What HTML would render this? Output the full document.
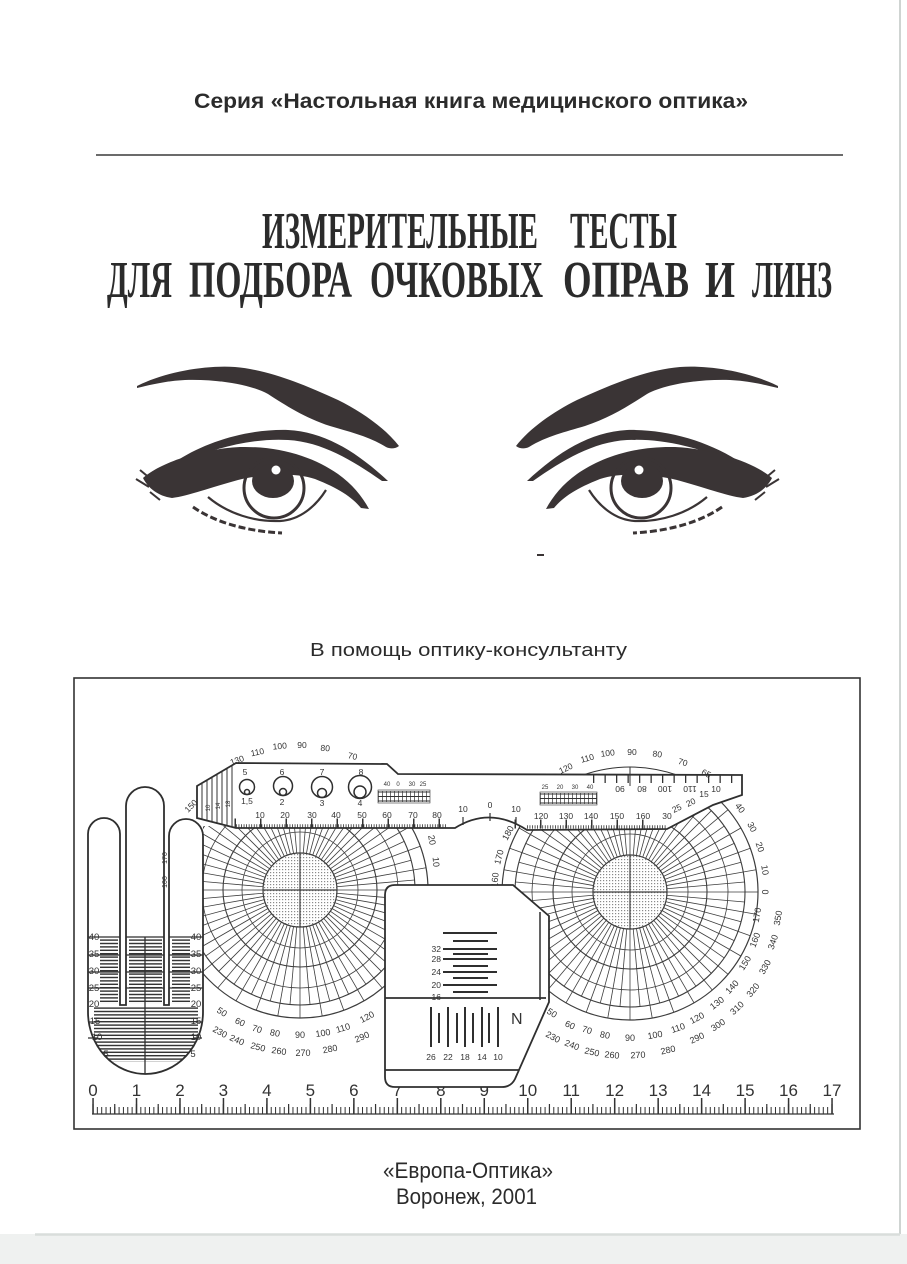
<!DOCTYPE html>
<html><head><meta charset="utf-8">
<style>
html,body{margin:0;padding:0;background:#fff;}
svg{display:block;}
</style></head>
<body>
<svg width="907" height="1264" viewBox="0 0 907 1264" xmlns="http://www.w3.org/2000/svg">
<defs>
  <pattern id="hatch" width="6" height="3.4" patternUnits="userSpaceOnUse"><line x1="0" y1="1.7" x2="6" y2="1.7" stroke="#2e2e2e" stroke-width="1.4"/></pattern>
  <pattern id="dots" width="3" height="3" patternUnits="userSpaceOnUse"><rect x="0" y="0" width="1.2" height="1.2" fill="#8a8a8a"/></pattern>
  <line id="rl" x1="37" y1="0" x2="115" y2="0"/>
  <g id="rq">
    <use href="#rl"/><use href="#rl" transform="rotate(5)"/><use href="#rl" transform="rotate(10)"/><use href="#rl" transform="rotate(15)"/>
    <use href="#rl" transform="rotate(20)"/><use href="#rl" transform="rotate(25)"/><use href="#rl" transform="rotate(30)"/><use href="#rl" transform="rotate(35)"/>
    <use href="#rl" transform="rotate(40)"/><use href="#rl" transform="rotate(45)"/><use href="#rl" transform="rotate(50)"/><use href="#rl" transform="rotate(55)"/>
    <use href="#rl" transform="rotate(60)"/><use href="#rl" transform="rotate(65)"/><use href="#rl" transform="rotate(70)"/><use href="#rl" transform="rotate(75)"/>
    <use href="#rl" transform="rotate(80)"/><use href="#rl" transform="rotate(85)"/>
  </g>
  <g id="ra"><use href="#rq"/><use href="#rq" transform="rotate(90)"/><use href="#rq" transform="rotate(180)"/><use href="#rq" transform="rotate(270)"/></g>
  <line id="ro" x1="115" y1="0" x2="128" y2="0"/>
  <g id="oq">
    <use href="#ro"/><use href="#ro" transform="rotate(10)"/><use href="#ro" transform="rotate(20)"/><use href="#ro" transform="rotate(30)"/>
    <use href="#ro" transform="rotate(40)"/><use href="#ro" transform="rotate(50)"/><use href="#ro" transform="rotate(60)"/><use href="#ro" transform="rotate(70)"/>
    <use href="#ro" transform="rotate(80)"/>
  </g>
  <g id="oa"><use href="#oq"/><use href="#oq" transform="rotate(90)"/><use href="#oq" transform="rotate(180)"/><use href="#oq" transform="rotate(270)"/></g>
  <g id="prot" fill="none" stroke="#3d3d3d" stroke-width="0.8">
    <circle r="37" fill="url(#dots)" stroke-width="1.2"/>
    <circle r="58"/><circle r="77" stroke-width="1.1"/><circle r="98"/><circle r="115" stroke-width="1.1"/><circle r="128" stroke-width="1.2"/>
    <use href="#ra"/><use href="#oa"/>
    <path d="M-37,0H37M0,-37V37" stroke-width="1.2"/>
  </g>
  <clipPath id="cpL"><path d="M203,826 L470,826 L470,1130 L203,1130 Z"/></clipPath>
  <clipPath id="cpR"><path d="M470,826 L667,826 L742,793 L800,793 L800,1130 L470,1130 Z"/></clipPath>
  <clipPath id="cpT"><polygon points="197,786 236,763 236,828 197,818"/></clipPath>
  <clipPath id="cpH"><path d="M88,1012 L88,834 A16,16 0 0 1 120,834 L120,1005 L126,1005 L126,806 A19,19 0 0 1 164,806 L164,1005 L169,1005 L169,836 A17,17 0 0 1 203,836 L203,1012 A57.5,62 0 0 1 88,1012 Z"/></clipPath>

  <g id="eye">
    <path fill="#3a3435" d="M137,386 C165,372 205,365 235,367 C270,370 305,385 338,400 C362,412 385,428 399,446 C395,449 390,449 386,447 C368,436 350,432 330,426 C305,418 285,405 268,394 C250,384 215,379 185,380 C165,381 150,385 137,388 Z"/>
    <path fill="#3a3435" d="M178,460 C210,440 250,429 288,430 C325,432 357,452 388,481 L382,481 C352,460 322,442 288,440 C255,438 215,447 182,463 Z"/>
    <path fill="#3a3435" d="M143,478 C160,463 200,449 240,447 C282,446 315,458 338,474 C352,484 362,496 369,509 L361,508 C352,497 338,488 315,479 C292,472 262,474 238,480 C212,487 188,496 172,498 C158,496 148,488 143,478 Z"/>
    <circle cx="274" cy="488" r="30" fill="none" stroke="#3a3435" stroke-width="3"/>
    <ellipse cx="273" cy="481" rx="21" ry="17" fill="#3a3435"/>
    <circle cx="276" cy="470" r="4.5" fill="#fff"/>
    <path d="M208,497 C228,514 255,522 280,521 C300,520 316,506 326,490" fill="none" stroke="#3a3435" stroke-width="2.2"/>
    <path d="M193,507 C213,521 243,531 282,533" fill="none" stroke="#3a3435" stroke-width="3" stroke-dasharray="7 3"/>
    <path d="M140,470 L152,480 M136,479 L149,487 M150,492 L160,500" fill="none" stroke="#3a3435" stroke-width="2"/>
  </g>
</defs>

<rect width="907" height="1264" fill="#fff"/>

<!-- scan edges -->
<line x1="900" y1="0" x2="900" y2="1236" stroke="#cfd4d2" stroke-width="2"/>
<rect x="0" y="1234" width="907" height="30" fill="#eff1f0"/>
<line x1="35" y1="1234.5" x2="900" y2="1234.5" stroke="#d9dddb" stroke-width="2.5"/>

<!-- header -->
<text x="194" y="108" font-family="Liberation Sans, sans-serif" font-weight="bold" font-size="21" fill="#2b2b2b" textLength="554" lengthAdjust="spacingAndGlyphs">Серия «Настольная книга медицинского оптика»</text>
<line x1="96" y1="155" x2="843" y2="155" stroke="#3a3a3a" stroke-width="1.5"/>
<g font-family="Liberation Serif, serif" font-weight="bold" font-size="52" fill="#2b2b2b">
  <text x="262" y="248" textLength="276" lengthAdjust="spacingAndGlyphs">ИЗМЕРИТЕЛЬНЫЕ</text>
  <text x="570" y="248" textLength="107" lengthAdjust="spacingAndGlyphs">ТЕСТЫ</text>
  <text x="107" y="297" textLength="65" lengthAdjust="spacingAndGlyphs">ДЛЯ</text>
  <text x="189" y="297" textLength="163" lengthAdjust="spacingAndGlyphs">ПОДБОРА</text>
  <text x="370" y="297" textLength="173" lengthAdjust="spacingAndGlyphs">ОЧКОВЫХ</text>
  <text x="563" y="297" textLength="126" lengthAdjust="spacingAndGlyphs">ОПРАВ</text>
  <text x="705" y="297" textLength="30" lengthAdjust="spacingAndGlyphs">И</text>
  <text x="752" y="297" textLength="80" lengthAdjust="spacingAndGlyphs">ЛИНЗ</text>
</g>

<!-- eyes -->
<use href="#eye"/>
<use href="#eye" transform="translate(915,0) scale(-1,1)"/>
<rect x="537" y="554" width="7" height="2" fill="#3a3435"/>

<text x="310" y="656" font-family="Liberation Sans, sans-serif" font-size="18" fill="#2b2b2b" textLength="317" lengthAdjust="spacingAndGlyphs">В помощь оптику-консультанту</text>

<!-- frame -->
<rect x="74" y="678" width="786" height="451" fill="none" stroke="#333" stroke-width="1.6"/>

<!-- protractors -->
<g clip-path="url(#cpL)"><use href="#prot" transform="translate(300,890)"/></g>
<g clip-path="url(#cpR)"><use href="#prot" transform="translate(630,892)"/></g>

<!-- protractor labels -->
<g font-family="Liberation Sans, sans-serif" font-size="9" fill="#333" text-anchor="middle">
  <text transform="translate(222,1012) rotate(33)" dy="3">50</text>
  <text transform="translate(240,1022) rotate(24)" dy="3">60</text>
  <text transform="translate(257,1029) rotate(17)" dy="3">70</text>
  <text transform="translate(275,1033) rotate(10)" dy="3">80</text>
  <text transform="translate(300,1035)" dy="3">90</text>
  <text transform="translate(323,1033) rotate(-9)" dy="3">100</text>
  <text transform="translate(343,1028) rotate(-17)" dy="3">110</text>
  <text transform="translate(367,1017) rotate(-28)" dy="3">120</text>
  <text transform="translate(220,1032) rotate(29)" dy="3">230</text>
  <text transform="translate(237,1040) rotate(23)" dy="3">240</text>
  <text transform="translate(258,1047) rotate(15)" dy="3">250</text>
  <text transform="translate(279,1051) rotate(8)" dy="3">260</text>
  <text transform="translate(303,1053)" dy="3">270</text>
  <text transform="translate(330,1049) rotate(-11)" dy="3">280</text>
  <text transform="translate(362,1037) rotate(-23)" dy="3">290</text>
  <text transform="translate(432,840) rotate(80)" dy="3">20</text>
  <text transform="translate(436,862) rotate(85)" dy="3">10</text>

  <text transform="translate(552,1013) rotate(33)" dy="3">50</text>
  <text transform="translate(570,1025) rotate(24)" dy="3">60</text>
  <text transform="translate(587,1030) rotate(17)" dy="3">70</text>
  <text transform="translate(605,1035) rotate(10)" dy="3">80</text>
  <text transform="translate(630,1038)" dy="3">90</text>
  <text transform="translate(655,1035) rotate(-10)" dy="3">100</text>
  <text transform="translate(678,1028) rotate(-19)" dy="3">110</text>
  <text transform="translate(697,1018) rotate(-28)" dy="3">120</text>
  <text transform="translate(717,1003) rotate(-38)" dy="3">130</text>
  <text transform="translate(732,987) rotate(-47)" dy="3">140</text>
  <text transform="translate(745,963) rotate(-58)" dy="3">150</text>
  <text transform="translate(755,940) rotate(-69)" dy="3">160</text>
  <text transform="translate(757,915) rotate(-80)" dy="3">170</text>
  <text transform="translate(765,892) rotate(90)" dy="3">0</text>
  <text transform="translate(765,870) rotate(81)" dy="3">10</text>
  <text transform="translate(760,847) rotate(71)" dy="3">20</text>
  <text transform="translate(752,827) rotate(62)" dy="3">30</text>
  <text transform="translate(740,808) rotate(53)" dy="3">40</text>
  <text transform="translate(553,1037) rotate(28)" dy="3">230</text>
  <text transform="translate(572,1045) rotate(21)" dy="3">240</text>
  <text transform="translate(592,1052) rotate(13)" dy="3">250</text>
  <text transform="translate(612,1055) rotate(6)" dy="3">260</text>
  <text transform="translate(638,1055) rotate(-3)" dy="3">270</text>
  <text transform="translate(668,1050) rotate(-13)" dy="3">280</text>
  <text transform="translate(697,1038) rotate(-25)" dy="3">290</text>
  <text transform="translate(718,1025) rotate(-33)" dy="3">300</text>
  <text transform="translate(737,1008) rotate(-43)" dy="3">310</text>
  <text transform="translate(753,990) rotate(-51)" dy="3">320</text>
  <text transform="translate(765,967) rotate(-61)" dy="3">330</text>
  <text transform="translate(773,942) rotate(-71)" dy="3">340</text>
  <text transform="translate(778,918) rotate(-80)" dy="3">350</text>
  <text transform="translate(508,833) rotate(-62)" dy="3">180</text>
  <text transform="translate(499,857) rotate(-75)" dy="3">170</text>
  <text transform="translate(495,880) rotate(-85)" dy="3">160</text>
</g>

<!-- ruler band -->
<path d="M197,786 L236,763 L387,764 L398,774 L742,775 L742,795 L713,805 L667,829 L527,830 Q490,806 455,828 L236,828 L197,818 Z" fill="#fff" stroke="#2f2f2f" stroke-width="1.8"/>
<g clip-path="url(#cpT)" stroke="#333" stroke-width="1">
  <path d="M202,760V830M207,760V830M212,760V830M217,760V830M222,760V830M227,760V830M232,760V830"/>
</g>
<g font-family="Liberation Sans, sans-serif" font-size="6" fill="#333" text-anchor="middle">
  <text transform="translate(210,808) rotate(-90)">10</text>
  <text transform="translate(220,806) rotate(-90)">14</text>
  <text transform="translate(230,804) rotate(-90)">18</text>
</g>
<!-- band top arc (right) -->
<path d="M583,775 Q630,759 677,775" fill="none" stroke="#333" stroke-width="1"/>
<line x1="630" y1="767" x2="630" y2="786" stroke="#333" stroke-width="1"/>
<line x1="593" y1="779" x2="740" y2="779" stroke="#333" stroke-width="8" stroke-dasharray="1.3 10.2"/>
<!-- band bottom ticks -->
<line x1="236" y1="826" x2="446" y2="826" stroke="#333" stroke-width="3.5" stroke-dasharray="0.8 1.75"/>
<line x1="234.5" y1="823" x2="446" y2="823" stroke="#333" stroke-width="9" stroke-dasharray="1.5 24"/>
<line x1="527" y1="827" x2="667" y2="827" stroke="#333" stroke-width="3.5" stroke-dasharray="0.8 1.75"/>
<line x1="514.5" y1="824" x2="667" y2="824" stroke="#333" stroke-width="9" stroke-dasharray="1.5 24"/>
<path d="M463,817V825M490,813V821M516,817V825" stroke="#333" stroke-width="1.2"/>
<!-- circles on band -->
<g fill="none" stroke="#2f2f2f" stroke-width="1.5">
  <circle cx="247" cy="787" r="7.5"/><circle cx="247" cy="792" r="2.5"/>
  <circle cx="283" cy="786" r="9.5"/><circle cx="283" cy="792" r="3.5"/>
  <circle cx="322" cy="787" r="10.5"/><circle cx="322" cy="793" r="4.5"/>
  <circle cx="360" cy="787" r="11.5"/><circle cx="360" cy="792" r="6"/>
</g>
<!-- mini scales -->
<g stroke="#333" fill="none">
  <rect x="378" y="790" width="52" height="13" stroke-width="0.6"/>
  <path d="M378,792H430M378,796.5H430M378,801H430" stroke-width="0.9"/>
  <line x1="378" y1="796.5" x2="430" y2="796.5" stroke-width="11" stroke-dasharray="0.7 3.3"/>
  <rect x="540" y="792" width="57" height="13" stroke-width="0.6"/>
  <path d="M540,794H597M540,798.5H597M540,803H597" stroke-width="0.9"/>
  <line x1="540" y1="798.5" x2="597" y2="798.5" stroke-width="11" stroke-dasharray="0.7 3.3"/>
</g>
<g font-family="Liberation Sans, sans-serif" font-size="8.5" fill="#333" text-anchor="middle">
  <text x="245" y="775">5</text><text x="282" y="775">6</text><text x="322" y="775">7</text><text x="361" y="775">8</text>
  <text x="247" y="804">1,5</text><text x="282" y="805">2</text><text x="322" y="806">3</text><text x="360" y="806">4</text>
  <text x="260" y="818">10</text><text x="285" y="818">20</text><text x="312" y="818">30</text><text x="336" y="818">40</text>
  <text x="362" y="818">50</text><text x="387" y="818">60</text><text x="413" y="818">70</text><text x="437" y="818">80</text>
  <text x="463" y="812">10</text><text x="490" y="808">0</text><text x="516" y="812">10</text>
  <text x="541" y="819">120</text><text x="566" y="819">130</text><text x="591" y="819">140</text><text x="617" y="819">150</text><text x="643" y="819">160</text><text x="667" y="819">30</text>
  <text transform="translate(258,755) rotate(-12)">110</text>
  <text transform="translate(280,749) rotate(-5)">100</text>
  <text transform="translate(302,748)">90</text>
  <text transform="translate(325,751) rotate(5)">80</text>
  <text transform="translate(352,759) rotate(12)">70</text>
  <text transform="translate(238,763) rotate(-20)">130</text>
  <text transform="translate(193,808) rotate(-45)">150</text>
  <text transform="translate(567,771) rotate(-25)">120</text>
  <text transform="translate(588,761) rotate(-15)">110</text>
  <text transform="translate(608,756) rotate(-7)">100</text>
  <text transform="translate(632,755)">90</text>
  <text transform="translate(657,757) rotate(7)">80</text>
  <text transform="translate(682,765) rotate(17)">70</text>
  <text transform="translate(705,776) rotate(27)">65</text>
  <text transform="translate(620,786) rotate(180)">90</text>
  <text transform="translate(642,786) rotate(180)">80</text>
  <text transform="translate(665,786) rotate(180)">100</text>
  <text transform="translate(690,786) rotate(180)">110</text>
  <text x="704" y="797">15</text><text x="716" y="792">10</text>
  <text transform="translate(692,805) rotate(-25)">20</text>
  <text transform="translate(678,811) rotate(-25)">25</text>
  <text font-size="6" x="387" y="786">40</text><text font-size="6" x="398" y="786">0</text><text font-size="6" x="412" y="786">30</text><text font-size="6" x="423" y="786">25</text>
  <text font-size="6" x="545" y="789">25</text><text font-size="6" x="560" y="789">20</text><text font-size="6" x="575" y="789">30</text><text font-size="6" x="590" y="789">40</text>
</g>

<!-- ruler -->
<g font-family="Liberation Sans, sans-serif" font-size="17" fill="#333" text-anchor="middle">
  <text x="93" y="1096">0</text><text x="136.5" y="1096">1</text><text x="180" y="1096">2</text><text x="223.4" y="1096">3</text>
  <text x="266.9" y="1096">4</text><text x="310.4" y="1096">5</text><text x="353.8" y="1096">6</text><text x="397.3" y="1096">7</text>
  <text x="440.8" y="1096">8</text><text x="484.2" y="1096">9</text><text x="527.7" y="1096">10</text><text x="571.2" y="1096">11</text>
  <text x="614.6" y="1096">12</text><text x="658.1" y="1096">13</text><text x="701.6" y="1096">14</text><text x="745.1" y="1096">15</text>
  <text x="788.5" y="1096">16</text><text x="832" y="1096">17</text>
</g>
<line x1="92.5" y1="1110.5" x2="834" y2="1110.5" stroke="#333" stroke-width="7" stroke-dasharray="1 3.347"/>
<line x1="92.4" y1="1109" x2="834" y2="1109" stroke="#333" stroke-width="10" stroke-dasharray="1.2 20.535"/>
<line x1="92.3" y1="1106" x2="834" y2="1106" stroke="#333" stroke-width="16" stroke-dasharray="1.5 41.97"/>
<line x1="92" y1="1114" x2="834" y2="1114" stroke="#333" stroke-width="1.3"/>

<!-- card -->
<path d="M395,885 L513,885 L549,916 L549,1002 L515,1079 Q511,1087 502,1087 L395,1087 Q385,1087 385,1077 L385,895 Q385,885 395,885 Z" fill="#fff" stroke="#2f2f2f" stroke-width="1.8"/>
<path d="M540,912 L540,1000" fill="none" stroke="#2f2f2f" stroke-width="1.5"/>
<line x1="385" y1="998" x2="546" y2="998" stroke="#2f2f2f" stroke-width="1.8"/>
<line x1="385" y1="1070" x2="519" y2="1070" stroke="#2f2f2f" stroke-width="1.8"/>
<g stroke="#2f2f2f" stroke-width="2">
  <path d="M443,933H497M453,941H488M443,949H497M453,954H488M443,959H497M453,966H488M443,972H497M453,978H488M443,985H497M453,992H488"/>
  <path d="M431,1007V1047M439,1013V1043M448,1007V1047M457,1013V1043M465,1007V1047M473,1013V1043M482,1007V1047M489,1013V1043M498,1007V1047"/>
</g>
<g font-family="Liberation Sans, sans-serif" font-size="8.5" fill="#333">
  <g text-anchor="end"><text x="441" y="952">32</text><text x="441" y="962">28</text><text x="441" y="975">24</text><text x="441" y="988">20</text><text x="441" y="1000">16</text></g>
  <g text-anchor="middle"><text x="431" y="1060">26</text><text x="448" y="1060">22</text><text x="465" y="1060">18</text><text x="482" y="1060">14</text><text x="498" y="1060">10</text></g>
  <text x="511" y="1024" font-size="16">N</text>
</g>

<!-- hand -->
<path d="M88,1012 L88,834 A16,16 0 0 1 120,834 L120,1005 L126,1005 L126,806 A19,19 0 0 1 164,806 L164,1005 L169,1005 L169,836 A17,17 0 0 1 203,836 L203,1012 A57.5,62 0 0 1 88,1012 Z" fill="#fff" stroke="#2f2f2f" stroke-width="1.8"/>
<g clip-path="url(#cpH)">
  <rect x="100" y="939" width="18" height="65" fill="url(#hatch)"/>
  <rect x="129" y="939" width="33" height="65" fill="url(#hatch)"/>
  <rect x="172" y="939" width="18" height="65" fill="url(#hatch)"/>
  <rect x="94" y="1007" width="104" height="55" fill="url(#hatch)"/>
</g>
<g stroke="#2f2f2f" stroke-width="1.3" fill="none">
  <path d="M88,937H120M126,937H164M169,937H203"/>
  <path d="M88,955H120M88,972H120M88,988H120M169,955H203M169,972H203M169,988H203M126,955H164M126,972H164M126,988H164"/>
  <path d="M88,1022H96M88,1038H98M196,1022H203M193,1038H202M145,937V1074"/>
</g>
<g font-family="Liberation Sans, sans-serif" font-size="9.5" fill="#333" text-anchor="middle">
  <text x="196" y="940">40</text><text x="196" y="957">35</text><text x="196" y="974">30</text><text x="196" y="991">25</text>
  <text x="196" y="1007">20</text><text x="196" y="1024">15</text><text x="196" y="1040">10</text><text x="193" y="1057">5</text>
  <text x="94" y="940">40</text><text x="94" y="957">35</text><text x="94" y="974">30</text><text x="94" y="991">25</text>
  <text x="94" y="1007">20</text><text x="95" y="1024">15</text><text x="97" y="1040">10</text><text x="106" y="1057">5</text>
  <text font-size="7" transform="translate(167,858) rotate(-90)">170</text>
  <text font-size="7" transform="translate(167,882) rotate(-90)">100</text>
</g>

<!-- footer -->
<text x="383" y="1178" font-family="Liberation Sans, sans-serif" font-size="22" fill="#2b2b2b" textLength="170" lengthAdjust="spacingAndGlyphs">«Европа-Оптика»</text>
<text x="396" y="1204" font-family="Liberation Sans, sans-serif" font-size="22" fill="#2b2b2b" textLength="141" lengthAdjust="spacingAndGlyphs">Воронеж, 2001</text>
</svg>
</body></html>
